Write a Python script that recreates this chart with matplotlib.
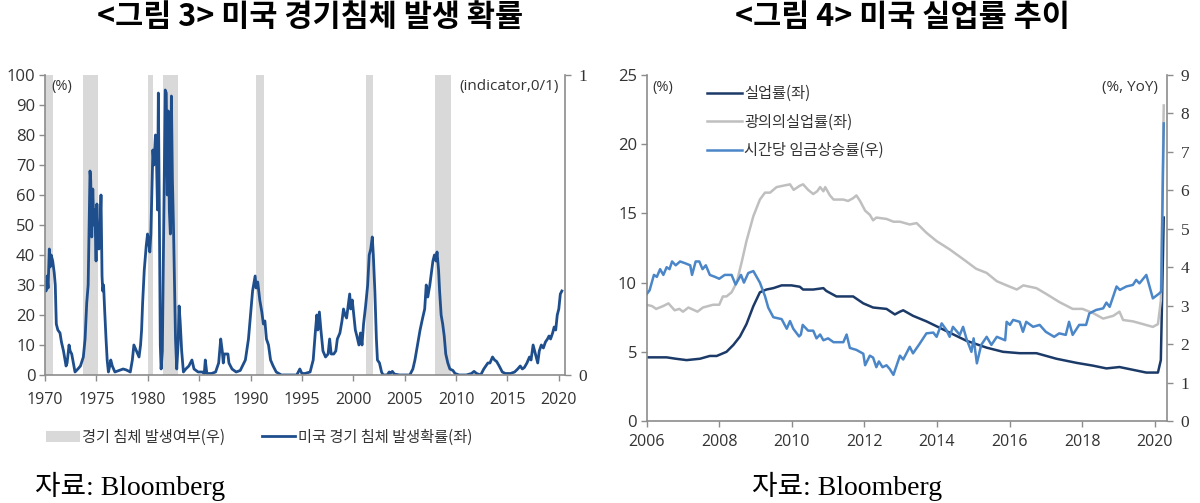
import numpy as np
import matplotlib
matplotlib.use("Agg")
from matplotlib import pyplot as plt
from matplotlib.patches import Patch
from matplotlib.lines import Line2D

# ---- figure 3 : recession probability (left, %) and NBER recession indicator (right, 0/1)
prob_year = [1970.0, 1970.1, 1970.2, 1970.3, 1970.42, 1970.5, 1970.6, 1970.75, 1970.9, 1971.0,
             1971.1, 1971.25, 1971.46, 1971.6, 1971.8, 1972.05, 1972.15, 1972.34, 1972.45, 1972.6,
             1972.92, 1973.2, 1973.45, 1973.73, 1973.9, 1974.06, 1974.2, 1974.38, 1974.45, 1974.55,
             1974.65, 1974.75, 1974.85, 1974.97, 1975.05, 1975.15, 1975.25, 1975.35, 1975.45, 1975.55,
             1975.62, 1975.7, 1975.8, 1975.94, 1976.05, 1976.17, 1976.3, 1976.4, 1976.55, 1976.8,
             1977.2, 1977.6, 1977.9, 1978.3, 1978.5, 1978.65, 1978.9, 1979.15, 1979.3, 1979.4,
             1979.5, 1979.66, 1979.85, 1979.98, 1980.1, 1980.2, 1980.3, 1980.38, 1980.5, 1980.6,
             1980.75, 1980.85, 1980.95, 1981.03, 1981.12, 1981.22, 1981.3, 1981.42, 1981.55, 1981.7,
             1981.8, 1981.9, 1982.0, 1982.1, 1982.2, 1982.3, 1982.4, 1982.5, 1982.6, 1982.7,
             1982.82, 1982.95, 1983.05, 1983.15, 1983.3, 1983.47, 1983.7, 1984.0, 1984.3, 1984.5,
             1984.9, 1985.3, 1985.5, 1985.6, 1985.75, 1986.2, 1986.6, 1986.9, 1987.1, 1987.25,
             1987.35, 1987.45, 1987.8, 1987.9, 1988.2, 1988.6, 1989.0, 1989.5, 1989.8, 1990.0,
             1990.2, 1990.45, 1990.55, 1990.7, 1990.9, 1991.1, 1991.25, 1991.4, 1991.55, 1991.75,
             1991.95, 1992.2, 1992.5, 1993.0, 1994.5, 1994.8, 1995.0, 1995.3, 1995.8, 1996.1,
             1996.3, 1996.45, 1996.55, 1996.7, 1996.85, 1997.05, 1997.3, 1997.55, 1997.7, 1997.85,
             1998.1, 1998.3, 1998.45, 1998.7, 1998.9, 1999.05, 1999.2, 1999.35, 1999.5, 1999.65,
             1999.75, 1999.9, 2000.05, 2000.2, 2000.35, 2000.55, 2000.7, 2000.85, 2001.0, 2001.2,
             2001.4, 2001.55, 2001.7, 2001.85, 2001.95, 2002.1, 2002.25, 2002.35, 2002.55, 2002.75,
             2002.9, 2003.3, 2003.5, 2003.6, 2003.8, 2004.0, 2004.5, 2005.0, 2005.5, 2005.8,
             2006.0, 2006.25, 2006.5, 2006.75, 2006.95, 2007.1, 2007.25, 2007.45, 2007.6, 2007.75,
             2007.9, 2008.05, 2008.15, 2008.3, 2008.4, 2008.55, 2008.7, 2008.85, 2009.0, 2009.2,
             2009.4, 2009.7, 2009.9, 2010.3, 2011.0, 2011.5, 2011.75, 2012.0, 2012.4, 2012.7,
             2012.9, 2013.1, 2013.3, 2013.55, 2013.75, 2013.95, 2014.2, 2014.5, 2014.8, 2015.3,
             2015.7, 2016.0, 2016.25, 2016.45, 2016.65, 2016.9, 2017.15, 2017.3, 2017.5, 2017.65,
             2017.8, 2017.95, 2018.1, 2018.3, 2018.5, 2018.7, 2018.9, 2019.05, 2019.2, 2019.4,
             2019.55, 2019.7, 2019.85, 2020.0, 2020.15, 2020.3]
prob_value = [31, 28, 33, 29, 42, 36, 40, 38, 34, 30,
              17, 15, 14, 11, 8, 3, 4, 10, 8, 7,
              1, 2, 3, 6, 12, 24, 30, 68, 65, 46,
              62, 50, 55, 38, 57, 45, 42, 48, 60, 33,
              28, 30, 22, 12, 5, 1, 3, 5, 3, 1,
              1.5, 2, 1.7, 1, 5, 10, 8, 6, 10, 15,
              24, 35, 43, 47, 44, 41, 47, 58, 75, 70,
              80, 72, 55, 94, 57, 10, 2, 8, 50, 95,
              94, 60, 88, 55, 47, 93, 65, 50, 30, 12,
              2, 10, 23, 18, 8, 1, 2, 3, 5, 2,
              1, 1, 0.5, 5, 0.5, 0.5, 1, 4, 12, 8,
              4, 7, 7, 4, 2, 1, 1.5, 5, 12, 20,
              28, 33, 29, 31, 25, 21, 17, 18, 12, 10,
              5, 3, 1, 0, 0, 2, 0.5, 0.5, 1, 5,
              14, 20, 15, 21, 15, 8, 6, 7, 12, 7,
              7, 8, 12, 14, 18, 22, 20, 19, 23, 27,
              22, 25, 20, 15, 13, 10, 14, 10, 17, 23,
              30, 40, 42, 46, 40, 28, 12, 5, 4, 1,
              0, 0, 1, 0.5, 1.2, 0.3, 0, 0, 0, 2,
              5, 10, 15, 19, 22, 30, 26, 30, 34, 38,
              40, 38, 41, 35, 28, 20, 17, 13, 7, 4,
              2, 1.5, 0.5, 0, 0, 0.5, 1.2, 0.5, 0, 2,
              3, 4, 4, 6, 5, 4.5, 3, 1, 0.5, 0.5,
              1, 2, 3, 2, 2.5, 4, 6, 5, 10, 8,
              6, 4, 8, 10, 9, 11, 12, 13, 12, 14,
              16, 15, 20, 22, 27, 28]
rec_start = [1969.9, 1973.7, 1980.0, 1981.5, 1990.5, 2001.25, 2008.0]
rec_end = [1970.8, 1975.2, 1980.5, 1982.9, 1991.3, 2001.9, 2009.5]
rec_flag = [1, 1, 1, 1, 1, 1, 1]

# ---- figure 4 : unemployment (left, %) and hourly wage growth (right, % YoY)
u3_year = [2006.0, 2006.55, 2006.8, 2007.1, 2007.47, 2007.74, 2007.93, 2008.2, 2008.39, 2008.57,
           2008.75, 2008.94, 2009.12, 2009.3, 2009.49, 2009.72, 2009.99, 2010.22, 2010.31, 2010.59,
           2010.87, 2010.95, 2011.23, 2011.69, 2011.97, 2012.24, 2012.61, 2012.84, 2012.98, 2013.07,
           2013.34, 2013.71, 2014.26, 2014.81, 2015.37, 2015.82, 2016.28, 2016.74, 2017.29, 2017.85,
           2018.3, 2018.67, 2019.03, 2019.4, 2019.77, 2020.09, 2020.17, 2020.25]
u3_value = [4.6, 4.6, 4.5, 4.4, 4.5, 4.7, 4.7, 5.0, 5.5, 6.1,
            7.0, 8.3, 9.3, 9.5, 9.6, 9.8, 9.8, 9.7, 9.5, 9.5,
            9.6, 9.4, 9.0, 9.0, 8.5, 8.2, 8.1, 7.7, 7.9, 8.0,
            7.6, 7.2, 6.5, 5.8, 5.3, 5.0, 4.9, 4.9, 4.5, 4.2,
            4.0, 3.8, 3.9, 3.7, 3.5, 3.5, 4.4, 14.7]

u6_year = [2006.0, 2006.15, 2006.26, 2006.45, 2006.6, 2006.77, 2006.9, 2007.0, 2007.15, 2007.4,
           2007.55, 2007.83, 2008.0, 2008.1, 2008.2, 2008.34, 2008.48, 2008.62, 2008.75, 2008.94,
           2009.12, 2009.26, 2009.4, 2009.58, 2009.76, 2009.95, 2010.05, 2010.22, 2010.31, 2010.45,
           2010.59, 2010.7, 2010.78, 2010.87, 2010.92, 2011.05, 2011.15, 2011.42, 2011.55, 2011.69,
           2011.78, 2011.88, 2012.02, 2012.15, 2012.24, 2012.33, 2012.61, 2012.8, 2012.98, 2013.25,
           2013.44, 2013.71, 2013.99, 2014.35, 2014.72, 2015.08, 2015.37, 2015.65, 2015.92, 2016.2,
           2016.38, 2016.74, 2017.0, 2017.37, 2017.74, 2018.01, 2018.3, 2018.58, 2018.86, 2019.03,
           2019.13, 2019.4, 2019.68, 2019.95, 2020.09, 2020.17, 2020.25]
u6_value = [8.4, 8.3, 8.1, 8.3, 8.5, 8.0, 8.1, 7.9, 8.2, 7.9,
            8.2, 8.4, 8.4, 9.0, 9.0, 9.3, 10.0, 11.5, 13.0, 14.8,
            16.0, 16.5, 16.5, 16.9, 17.0, 17.1, 16.7, 17.0, 17.1, 16.7,
            16.4, 16.6, 16.9, 16.6, 16.9, 16.3, 16.0, 16.0, 15.9, 16.1,
            16.3, 15.9, 15.2, 14.9, 14.5, 14.7, 14.6, 14.4, 14.4, 14.2,
            14.3, 13.6, 13.0, 12.4, 11.7, 11.0, 10.7, 10.1, 9.8, 9.5,
            9.8, 9.6, 9.2, 8.6, 8.1, 8.1, 7.8, 7.4, 7.6, 7.9,
            7.3, 7.2, 7.0, 6.8, 7.0, 8.7, 22.8]

wage_year = [2006.0, 2006.08, 2006.2, 2006.28, 2006.37, 2006.46, 2006.55, 2006.63, 2006.7, 2006.8,
             2006.92, 2007.07, 2007.2, 2007.25, 2007.35, 2007.45, 2007.54, 2007.63, 2007.74, 2007.88,
             2008.0, 2008.15, 2008.34, 2008.45, 2008.6, 2008.68, 2008.8, 2008.94, 2009.12, 2009.26,
             2009.35, 2009.49, 2009.72, 2009.86, 2009.95, 2010.04, 2010.2, 2010.25, 2010.3, 2010.45,
             2010.59, 2010.68, 2010.78, 2010.87, 2011.0, 2011.15, 2011.42, 2011.51, 2011.6, 2011.78,
             2011.97, 2012.02, 2012.15, 2012.24, 2012.33, 2012.4, 2012.5, 2012.61, 2012.7, 2012.8,
             2012.89, 2012.98, 2013.07, 2013.25, 2013.34, 2013.53, 2013.71, 2013.9, 2013.99, 2014.13,
             2014.26, 2014.35, 2014.44, 2014.63, 2014.72, 2014.81, 2014.95, 2015.01, 2015.1, 2015.22,
             2015.37, 2015.5, 2015.65, 2015.88, 2015.92, 2016.01, 2016.1, 2016.28, 2016.37, 2016.46,
             2016.65, 2016.83, 2017.0, 2017.23, 2017.37, 2017.55, 2017.64, 2017.74, 2017.92, 2018.11,
             2018.2, 2018.39, 2018.58, 2018.67, 2018.76, 2018.95, 2019.04, 2019.22, 2019.4, 2019.49,
             2019.58, 2019.77, 2019.95, 2020.13, 2020.18, 2020.25]
wage_value = [3.3, 3.4, 3.8, 3.75, 3.95, 3.8, 4.0, 3.95, 4.15, 4.05,
              4.15, 4.1, 4.05, 3.8, 4.15, 4.15, 3.95, 4.05, 3.8, 3.75,
              3.7, 3.8, 3.8, 3.55, 3.8, 3.6, 3.85, 3.9, 3.6, 3.25,
              2.95, 2.7, 2.65, 2.4, 2.6, 2.4, 2.2, 2.25, 2.5, 2.35,
              2.35, 2.15, 2.25, 2.1, 2.15, 2.05, 2.05, 2.25, 1.9, 1.85,
              1.75, 1.45, 1.7, 1.65, 1.4, 1.55, 1.4, 1.45, 1.35, 1.2,
              1.45, 1.7, 1.6, 1.93, 1.76, 2.02, 2.28, 2.3, 2.19, 2.54,
              2.37, 2.19, 2.45, 2.24, 2.45, 2.15, 1.8, 2.15, 1.5, 1.98,
              2.19, 1.98, 2.19, 2.1, 2.58, 2.5, 2.63, 2.58, 2.32, 2.58,
              2.45, 2.5, 2.32, 2.19, 2.28, 2.24, 2.58, 2.24, 2.5, 2.5,
              2.8, 2.89, 2.93, 3.08, 2.97, 3.5, 3.41, 3.5, 3.54, 3.67,
              3.58, 3.8, 3.19, 3.32, 3.37, 7.74]

AX_GRAY = "#8c8c8c"
TXT = "#333333"
KFONT = ["Noto Sans CJK KR", "DejaVu Sans"]
NUMFONT = ["Open Sans", "Noto Sans CJK KR"]
SERIF = ["Liberation Serif", "Noto Sans CJK KR"]


def style_axes(ax):
    ax.spines["top"].set_visible(False)
    for side in ["left", "bottom", "right"]:
        ax.spines[side].set_color(AX_GRAY)
        ax.spines[side].set_linewidth(1.2)
    ax.tick_params(axis="both", colors=AX_GRAY, labelcolor=TXT, length=4, width=1,
                   labelsize=12, direction="out", pad=3)
    for lab in ax.get_xticklabels() + ax.get_yticklabels():
        lab.set_family(NUMFONT)


fig = plt.figure(figsize=(12, 5.03), dpi=100)

# ---------------- left chart
ax1 = fig.add_axes([0.0375, 0.2545, 0.4333, 0.5964])
ax1r = ax1.twinx()
ax1r.bar(rec_start, rec_flag, width=np.array(rec_end) - np.array(rec_start),
         align="edge", color="#d9d9d9", linewidth=0)
ax1.plot(prob_year, prob_value, color="#1f4e8c", lw=2.0, solid_joinstyle="round")
ax1.set_zorder(ax1r.get_zorder() + 1)
ax1.patch.set_visible(False)

ax1.set_xlim(1970, 2020.6)
ax1.set_ylim(0, 100)
ax1r.set_ylim(0, 1)
ax1.set_xticks(range(1970, 2021, 5))
ax1.set_yticks(range(0, 101, 10))
ax1r.set_yticks([0, 1])
style_axes(ax1)
style_axes(ax1r)
ax1.spines["right"].set_visible(False)
ax1r.spines["left"].set_visible(False)
ax1r.spines["bottom"].set_visible(False)
ax1.tick_params(axis="x", pad=8, labelsize=11.5)
ax1r.tick_params(axis="y", pad=6)
for lab in ax1r.get_yticklabels():
    lab.set_family(SERIF)
    lab.set_fontsize(12.5)

ax1.text(0.012, 0.985, "(%)", transform=ax1.transAxes, ha="left", va="top",
         fontsize=10.5, color=TXT, family=NUMFONT)
ax1.text(0.988, 0.985, "(indicator,0/1)", transform=ax1.transAxes, ha="right", va="top",
         fontsize=11, color=TXT, family=NUMFONT)

fig.legend(handles=[Patch(facecolor="#d9d9d9", edgecolor="none", label="경기 침체 발생여부(우)"),
                    Line2D([], [], color="#1f4e8c", lw=2, label="미국 경기 침체 발생확률(좌)")],
           loc="center", bbox_to_anchor=(0.216, 0.131), ncol=2, frameon=False,
           prop={"family": KFONT, "size": 11}, handlelength=2.2, handletextpad=0.15,
           columnspacing=2.4, labelcolor=TXT)

# ---------------- right chart
ax2 = fig.add_axes([0.5389, 0.163, 0.4333, 0.6879])
ax2r = ax2.twinx()
l1, = ax2.plot(u3_year, u3_value, color="#1c3a68", lw=1.8, label="실업률(좌)")
l2, = ax2.plot(u6_year, u6_value, color="#bfbfbf", lw=1.8, label="광의의실업률(좌)")
l3, = ax2r.plot(wage_year, wage_value, color="#4a86c8", lw=1.8, label="시간당 임금상승률(우)")

ax2.set_xlim(2006, 2020.33)
ax2.set_ylim(0, 25)
ax2r.set_ylim(0, 9)
ax2.set_xticks(range(2006, 2021, 2))
ax2.set_yticks(range(0, 26, 5))
ax2r.set_yticks(range(0, 10))
style_axes(ax2)
style_axes(ax2r)
ax2.spines["right"].set_visible(False)
ax2r.spines["left"].set_visible(False)
ax2r.spines["bottom"].set_visible(False)
ax2.tick_params(axis="x", pad=5, labelsize=11.5)
ax2r.tick_params(axis="y", pad=6)
for lab in ax2r.get_yticklabels():
    lab.set_family(SERIF)
    lab.set_fontsize(12.5)

ax2.text(0.01, 0.985, "(%)", transform=ax2.transAxes, ha="left", va="top",
         fontsize=10.5, color=TXT, family=NUMFONT)
ax2.text(0.983, 0.985, "(%, YoY)", transform=ax2.transAxes, ha="right", va="top",
         fontsize=11, color=TXT, family=NUMFONT)

ax2.legend(handles=[l1, l2, l3], loc="upper left", bbox_to_anchor=(0.09, 1.01),
           frameon=False, prop={"family": KFONT, "size": 11}, handlelength=2.3,
           handletextpad=0.1, labelspacing=0.75, labelcolor=TXT)

# ---------------- titles and sources
fig.text(0.258, 0.966, "<그림 3> 미국 경기침체 발생 확률", ha="center", va="center",
         fontsize=22, fontweight="bold", family=KFONT, color="black")
fig.text(0.752, 0.966, "<그림 4> 미국 실업률 추이", ha="center", va="center",
         fontsize=22, fontweight="bold", family=KFONT, color="black")
fig.text(0.029, 0.032, "자료: Bloomberg", ha="left", va="center",
         fontsize=20, family=SERIF, color="black")
fig.text(0.627, 0.032, "자료: Bloomberg", ha="left", va="center",
         fontsize=20, family=SERIF, color="black")

fig.savefig("out.png", dpi=100)
